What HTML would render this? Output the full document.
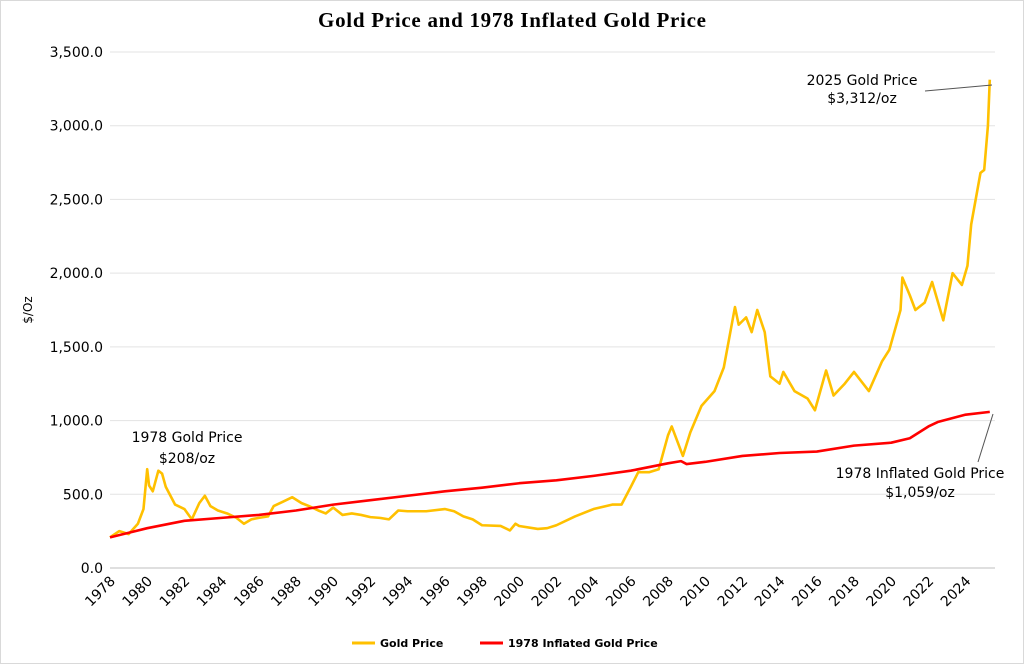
<!DOCTYPE html>
<html><head><meta charset="utf-8"><style>
body{margin:0;background:#fff;}
svg{display:block;font-family:"DejaVu Sans","Liberation Sans",sans-serif;}
</style></head><body>
<svg id="c" width="1024" height="664">
<rect x="0.5" y="0.5" width="1023" height="663" fill="#fff" stroke="#d9d9d9"/>
<text x="512" y="27" text-anchor="middle" font-family="'Liberation Serif',serif" font-weight="bold" font-size="21" textLength="388">Gold Price and 1978 Inflated Gold Price</text>
<g id="grid"></g><g id="yt"></g><g id="xt"></g>
<text transform="translate(32,310) rotate(-90)" text-anchor="middle" font-size="12">$/Oz</text>
<g id="series"></g>
<g font-size="14" text-anchor="middle">
<text x="862" y="85">2025 Gold Price</text><text x="862" y="103">$3,312/oz</text>
<line x1="925" y1="91" x2="992" y2="85" stroke="#555"/></g>
<g font-size="14" text-anchor="middle">
<text x="187" y="442">1978 Gold Price</text><text x="187" y="463">$208/oz</text></g>
<g font-size="14" text-anchor="middle">
<text x="920" y="478">1978 Inflated Gold Price</text><text x="920" y="497">$1,059/oz</text>
<line x1="978" y1="462" x2="993" y2="414" stroke="#555"/></g>
<g font-size="11" font-weight="bold">
<line x1="352" y1="643" x2="375" y2="643" stroke="#ffc000" stroke-width="3"/><text x="380" y="647">Gold Price</text>
<line x1="480" y1="643" x2="503" y2="643" stroke="#ff0000" stroke-width="3"/><text x="508" y="647">1978 Inflated Gold Price</text>
</g>
</svg>
<script>
const yTicks=[0,500,1000,1500,2000,2500,3000,3500];
const xYears=[1978,1980,1982,1984,1986,1988,1990,1992,1994,1996,1998,2000,2002,2004,2006,2008,2010,2012,2014,2016,2018,2020,2022,2024];
const goldT=[1978,1978.5,1979,1979.5,1979.8,1980,1980.1,1980.3,1980.6,1980.8,1981,1981.5,1982,1982.4,1982.8,1983.1,1983.4,1983.8,1984.3,1984.8,1985.2,1985.6,1986,1986.5,1986.8,1987.3,1987.8,1988.3,1988.7,1989.2,1989.6,1990,1990.5,1991,1991.5,1992,1992.5,1993,1993.5,1994,1995,1996,1996.5,1997,1997.5,1998,1999,1999.5,1999.8,2000,2001,2001.5,2002,2003,2004,2005,2005.5,2006,2006.4,2007,2007.5,2008,2008.2,2008.8,2009.2,2009.8,2010.5,2011,2011.6,2011.8,2012.2,2012.5,2012.8,2013.2,2013.5,2014,2014.2,2014.8,2015.5,2015.9,2016.5,2016.9,2017.5,2018,2018.8,2019.5,2019.9,2020.5,2020.6,2021,2021.3,2021.8,2022.2,2022.8,2023.3,2023.8,2024.1,2024.3,2024.8,2025,2025.2,2025.3];
const goldV=[208,250,230,300,400,670,560,520,660,640,550,430,400,330,440,490,420,390,370,340,300,330,340,350,420,450,480,440,420,390,370,410,360,370,360,345,340,330,390,385,385,400,385,350,330,290,285,255,300,285,265,270,290,350,400,430,430,550,650,650,670,900,960,760,920,1100,1200,1360,1770,1650,1700,1600,1750,1600,1300,1250,1330,1200,1150,1070,1340,1170,1250,1330,1200,1400,1480,1750,1970,1850,1750,1800,1940,1680,2000,1920,2050,2330,2680,2700,3000,3312];
const inflT=[1978,1980,1982,1984,1986,1988,1990,1992,1994,1996,1998,2000,2002,2004,2006,2008,2008.7,2009,2010,2012,2014,2016,2018,2020,2021,2022,2022.5,2024,2025.3];
const inflV=[208,270,320,340,360,390,430,460,490,520,545,575,595,625,660,710,725,705,720,760,780,790,830,850,880,960,990,1040,1059];
const NS='http://www.w3.org/2000/svg';
const X=t=>110+(t-1978)*18.6;
const Y=v=>568-v*(516/3500);
function mk(tag,attrs,parent){const e=document.createElementNS(NS,tag);for(const k in attrs)e.setAttribute(k,attrs[k]);document.getElementById(parent).appendChild(e);return e;}
yTicks.forEach(v=>{
 const l=mk('line',{x1:110,x2:995,y1:Y(v),y2:Y(v),stroke:v===0?'#bfbfbf':'#e3e3e3'},'grid');
 
 
 const t=mk('text',{x:103,y:Y(v)+5,'text-anchor':'end','font-size':'14'},'yt');
 t.textContent=v.toLocaleString('en-US',{minimumFractionDigits:1});
 
 
});
xYears.forEach(y=>{
 const x=X(y);
 const t=mk('text',{x:0,y:0,'text-anchor':'end','font-size':'14',transform:`translate(${x+6},${582}) rotate(-45)`},'xt');
 t.textContent=y;
 
 
});
function line(T,V,color,name){
 const p=mk('polyline',{points:T.map((t,i)=>X(t)+','+Y(V[i])).join(' '),fill:'none',stroke:color,'stroke-width':2.6,'stroke-linejoin':'round'},'series');
 
 
}
line(goldT,goldV,'#ffc000','gold-price-line');
line(inflT,inflV,'#ff0000','inflated-gold-price-line');
</script>
</body></html>
